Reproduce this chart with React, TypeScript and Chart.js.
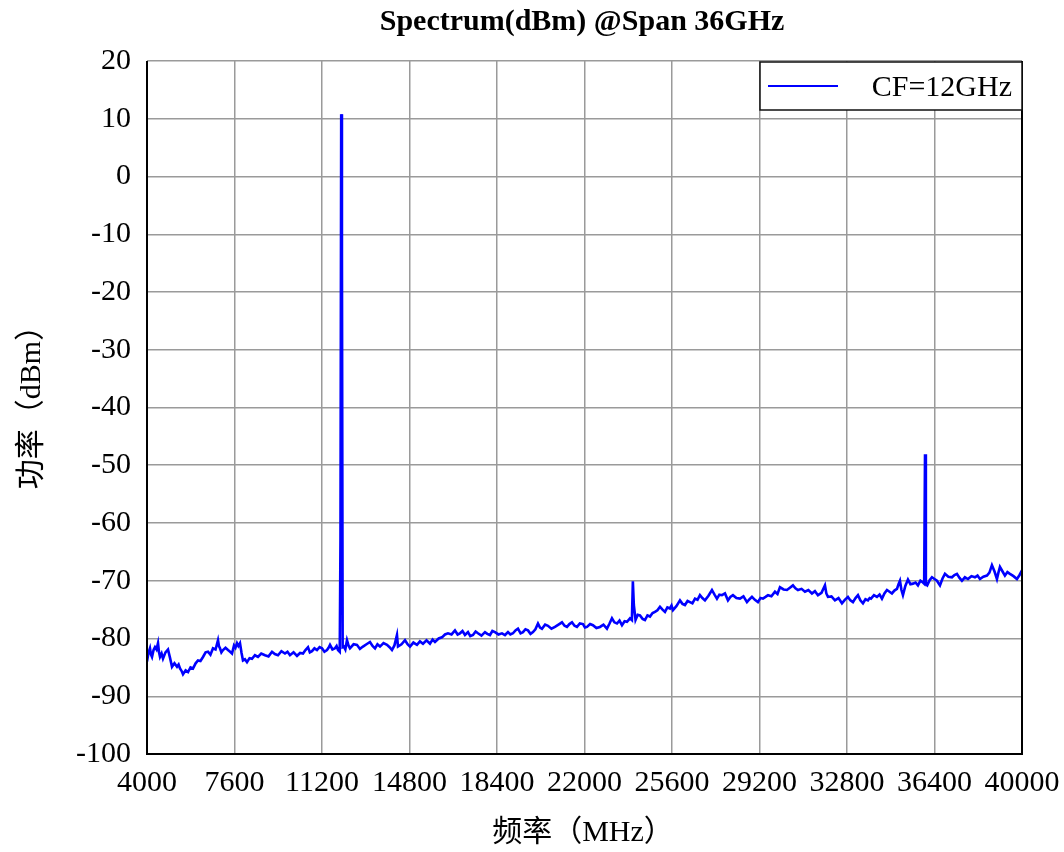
import React, { useEffect, useRef } from "react";
import { Chart, registerables } from "chart.js";

Chart.register(...registerables);

const chartTitle = "Spectrum(dBm) @Span 36GHz";
const xAxisTitle = "频率（MHz）";
const yAxisTitle = "功率（dBm）";
const seriesLabel = "CF=12GHz";

const xTicks = [4000, 7600, 11200, 14800, 18400, 22000, 25600, 29200, 32800, 36400, 40000];
const yTicks = [-100, -90, -80, -70, -60, -50, -40, -30, -20, -10, 0, 10, 20];

const freqMHz = [
  4000, 4060, 4123, 4165, 4206, 4270, 4329, 4390, 4453, 4495,
  4535, 4600, 4658, 4760, 4864, 4950, 5029, 5130, 5234, 5300,
  5358, 5420, 5481, 5590, 5687, 5790, 5892, 6000, 6098, 6200,
  6304, 6410, 6510, 6610, 6715, 6820, 6921, 6960, 7003, 7060,
  7127, 7230, 7332, 7420, 7497, 7579, 7640, 7703, 7760, 7826,
  7890, 7949, 8030, 8114, 8220, 8320, 8440, 8566, 8700, 8855,
  9000, 9143, 9260, 9389, 9530, 9677, 9780, 9883, 10030, 10171,
  10300, 10418, 10520, 10624, 10700, 10788, 10890, 10994, 11100, 11200,
  11300, 11405, 11470, 11529, 11630, 11734, 11800, 11858, 11930, 11960,
  11990, 12020, 12050, 12100, 12160, 12228, 12290, 12351, 12500, 12639,
  12760, 12886, 13030, 13174, 13280, 13380, 13480, 13586, 13730, 13874,
  13980, 14079, 14180, 14285, 14326, 14470, 14614, 14720, 14820, 14960,
  15108, 15230, 15355, 15500, 15643, 15750, 15848, 16000, 16136, 16260,
  16383, 16530, 16671, 16780, 16877, 16980, 17083, 17206, 17300, 17412,
  17520, 17617, 17760, 17905, 18000, 18111, 18210, 18317, 18460, 18605,
  18730, 18852, 18950, 19057, 19160, 19263, 19370, 19469, 19570, 19674,
  19780, 19880, 19980, 20086, 20170, 20250, 20380, 20497, 20640, 20785,
  20930, 21073, 21180, 21279, 21380, 21485, 21590, 21690, 21810, 21937,
  22020, 22102, 22230, 22348, 22490, 22636, 22780, 22924, 23030, 23130,
  23230, 23336, 23440, 23542, 23650, 23747, 23810, 23871, 23950, 23990,
  24030, 24100, 24190, 24282, 24390, 24488, 24590, 24694, 24800, 24899,
  25000, 25105, 25210, 25311, 25410, 25516, 25580, 25640, 25780, 25928,
  26030, 26133, 26240, 26339, 26440, 26545, 26650, 26750, 26850, 26956,
  27100, 27244, 27350, 27450, 27550, 27655, 27779, 27902, 28000, 28108,
  28250, 28396, 28540, 28684, 28790, 28890, 29010, 29136, 29240, 29342,
  29450, 29548, 29690, 29836, 29940, 30042, 30190, 30330, 30450, 30576,
  30680, 30782, 30930, 31070, 31210, 31358, 31480, 31605, 31750, 31893,
  31950, 32016, 32160, 32304, 32450, 32592, 32710, 32839, 32940, 33045,
  33150, 33251, 33350, 33456, 33560, 33662, 33730, 33786, 33910, 34032,
  34140, 34238, 34340, 34444, 34550, 34649, 34750, 34855, 34920, 34979,
  35040, 35102, 35200, 35308, 35410, 35514, 35620, 35719, 35820, 35925,
  35975, 36010, 36045, 36100, 36200, 36295, 36400, 36501, 36560, 36624,
  36730, 36830, 36970, 37118, 37220, 37323, 37430, 37529, 37650, 37776,
  37920, 38064, 38170, 38270, 38410, 38558, 38660, 38763, 38870, 38969,
  39030, 39093, 39200, 39298, 39400, 39504, 39650, 39792, 39900, 40000,
];

const powerDbm = [
  -84.0, -82.5, -81.7, -82.8, -83.2, -82.0, -81.5, -81.9, -80.8, -82.4,
  -83.2, -82.6, -83.5, -82.4, -81.9, -83.4, -84.9, -84.3, -84.9, -84.5,
  -85.2, -85.6, -86.2, -85.5, -85.8, -85.0, -85.2, -84.3, -83.8, -83.9,
  -83.2, -82.4, -82.3, -82.8, -81.7, -81.9, -80.3, -81.3, -81.7, -82.4,
  -82.0, -81.6, -82.0, -82.3, -82.6, -81.2, -81.6, -80.8, -81.3, -80.8,
  -82.5, -83.8, -83.6, -84.1, -83.4, -83.5, -82.9, -83.2, -82.6, -82.9,
  -83.1, -82.3, -82.7, -82.9, -82.2, -82.6, -82.3, -82.9, -82.4, -83.0,
  -82.5, -82.6, -82.0, -81.5, -82.4, -82.2, -81.7, -82.0, -81.5, -81.7,
  -82.3, -82.0, -81.6, -81.1, -81.9, -81.7, -81.3, -82.0, -82.3, -63.0,
  10.8, -13.6, -81.5, -81.4, -81.9, -80.3, -81.2, -81.7, -81.0, -81.1,
  -81.8, -81.4, -81.0, -80.6, -81.3, -81.7, -81.0, -81.4, -80.8, -81.1,
  -81.5, -82.0, -81.2, -79.4, -81.4, -81.0, -80.3, -81.0, -81.4, -80.7,
  -81.1, -80.5, -80.9, -80.3, -80.9, -80.2, -80.6, -80.0, -79.8, -79.3,
  -79.1, -79.3, -78.6, -79.3, -79.1, -78.7, -79.4, -78.9, -79.6, -79.4,
  -78.8, -79.1, -79.5, -78.9, -79.2, -79.4, -78.7, -78.9, -79.3, -79.1,
  -79.4, -78.9, -79.3, -79.1, -78.6, -78.3, -79.1, -78.9, -78.4, -78.6,
  -79.2, -78.9, -78.4, -77.4, -78.1, -78.3, -77.6, -77.8, -78.3, -78.0,
  -77.6, -77.2, -77.8, -78.0, -77.5, -77.2, -77.8, -78.0, -77.4, -77.5,
  -78.1, -78.0, -77.5, -77.7, -78.2, -78.0, -77.6, -78.3, -77.4, -76.5,
  -77.2, -77.4, -76.9, -77.7, -77.0, -77.1, -76.8, -76.5, -76.8, -70.1,
  -74.2, -76.8, -75.9, -76.0, -76.6, -76.8, -76.0, -76.2, -75.6, -75.4,
  -75.1, -74.5, -75.0, -75.4, -74.6, -74.8, -74.3, -75.1, -74.4, -73.4,
  -74.0, -74.2, -73.5, -73.7, -73.9, -73.1, -73.3, -72.5, -73.0, -73.4,
  -72.6, -71.6, -72.4, -73.1, -72.4, -72.5, -72.2, -73.4, -72.8, -72.5,
  -73.0, -73.1, -72.7, -73.7, -73.2, -72.8, -73.3, -73.7, -73.0, -73.1,
  -72.8, -72.5, -72.7, -71.9, -72.3, -71.1, -71.5, -71.6, -71.2, -70.8,
  -71.3, -71.6, -71.4, -71.9, -71.6, -72.2, -71.8, -72.5, -72.1, -70.8,
  -72.2, -72.8, -72.7, -73.4, -73.0, -73.9, -73.3, -72.8, -73.4, -73.7,
  -73.0, -72.5, -73.4, -73.9, -73.2, -73.4, -73.0, -73.1, -72.5, -72.8,
  -72.4, -73.1, -72.2, -71.6, -71.9, -72.2, -71.7, -71.4, -70.6, -70.0,
  -71.6, -72.5, -70.9, -69.8, -70.6, -70.5, -70.3, -70.8, -70.0, -70.3,
  -70.5, -48.1, -70.6, -70.8, -69.9, -69.4, -69.7, -70.0, -70.4, -70.8,
  -69.6, -68.8, -69.3, -69.4, -69.0, -68.8, -69.5, -70.0, -69.4, -69.7,
  -69.2, -69.4, -69.1, -69.7, -69.3, -69.1, -68.6, -67.3, -68.4, -69.7,
  -68.6, -67.6, -68.4, -69.1, -68.5, -68.8, -69.2, -69.7, -69.0, -68.2,
];

const SERIF = '"Liberation Serif", "Noto Sans CJK SC", serif';
const LINE_COLOR = "#0000ff";
const GRID_COLOR = "#9a9a9a";

const framePlugin = {
  id: "framePlugin",
  beforeDraw(chart: any) {
    const { ctx } = chart;
    ctx.save();
    ctx.fillStyle = "#ffffff";
    ctx.fillRect(0, 0, chart.width, chart.height);
    ctx.restore();
  },
  afterDraw(chart: any) {
    const { ctx, chartArea: a } = chart;
    ctx.save();
    ctx.strokeStyle = "#000000";
    ctx.lineWidth = 2;
    ctx.beginPath();
    ctx.moveTo(a.left, a.top);
    ctx.lineTo(a.left, a.bottom);
    ctx.lineTo(a.right, a.bottom);
    ctx.lineTo(a.right, a.top);
    ctx.stroke();

    // legend box
    const lw = 262;
    const lh = 48;
    const lx = a.right - lw;
    const ly = a.top + 1;
    ctx.fillStyle = "#ffffff";
    ctx.fillRect(lx, ly, lw, lh);
    ctx.strokeStyle = "#111111";
    ctx.lineWidth = 1.5;
    ctx.strokeRect(lx, ly, lw, lh);
    ctx.strokeStyle = LINE_COLOR;
    ctx.lineWidth = 2;
    ctx.beginPath();
    ctx.moveTo(lx + 8, ly + 24);
    ctx.lineTo(lx + 78, ly + 24);
    ctx.stroke();
    ctx.fillStyle = "#000000";
    ctx.font = `30px ${SERIF}`;
    ctx.textAlign = "right";
    ctx.textBaseline = "middle";
    ctx.fillText(chart.data.datasets[0].label, lx + lw - 10, ly + 26);

    // titles
    ctx.textAlign = "center";
    ctx.font = `bold 30px ${SERIF}`;
    ctx.fillText(chartTitle, 582, 22);
    ctx.font = `30px ${SERIF}`;
    ctx.fillText(xAxisTitle, 583, 833);
    ctx.translate(32, 400);
    ctx.rotate(-Math.PI / 2);
    ctx.fillText(yAxisTitle, 0, 0);
    ctx.restore();
  },
};

export default function App() {
  const canvasRef = useRef<HTMLCanvasElement | null>(null);

  useEffect(() => {
    if (!canvasRef.current) return;
    const points = freqMHz.map((f, i) => ({ x: f, y: powerDbm[i] }));
    const chart = new Chart(canvasRef.current, {
      type: "line",
      data: {
        datasets: [
          {
            label: seriesLabel,
            data: points,
            borderColor: LINE_COLOR,
            backgroundColor: LINE_COLOR,
            borderWidth: 2.6,
            pointRadius: 0,
            tension: 0,
            fill: false,
          },
        ],
      },
      options: {
        responsive: false,
        animation: false,
        layout: { padding: { top: 61, right: 42, left: 0, bottom: 0 } },
        plugins: {
          legend: { display: false },
          title: { display: false },
          tooltip: { enabled: false },
        },
        scales: {
          x: {
            type: "linear",
            min: 4000,
            max: 40000,
            afterFit: (s: any) => {
              s.height = 98;
              s.paddingLeft = 0;
              s.paddingRight = 0;
            },
            afterBuildTicks: (s: any) => {
              s.ticks = xTicks.map((v) => ({ value: v }));
            },
            grid: { color: GRID_COLOR, lineWidth: 1.5, drawTicks: false },
            border: { display: false },
            ticks: {
              padding: 11,
              maxRotation: 0,
              autoSkip: false,
              color: "#000000",
              font: { family: SERIF, size: 30 },
              callback: (v: any) => String(v),
            },
          },
          y: {
            type: "linear",
            min: -100,
            max: 20,
            afterFit: (s: any) => {
              s.width = 147;
            },
            afterBuildTicks: (s: any) => {
              s.ticks = yTicks.map((v) => ({ value: v }));
            },
            grid: { color: GRID_COLOR, lineWidth: 1.5, drawTicks: false },
            border: { display: false },
            ticks: {
              padding: 16,
              autoSkip: false,
              color: "#000000",
              font: { family: SERIF, size: 30 },
              callback: (v: any) => String(v),
            },
          },
        },
      },
      plugins: [framePlugin],
    });
    return () => chart.destroy();
  }, []);

  return (
    <div style={{ position: "absolute", left: 0, top: 0, width: 1064, height: 852 }}>
      <canvas ref={canvasRef} width={1064} height={852} style={{ width: 1064, height: 852 }} />
    </div>
  );
}
